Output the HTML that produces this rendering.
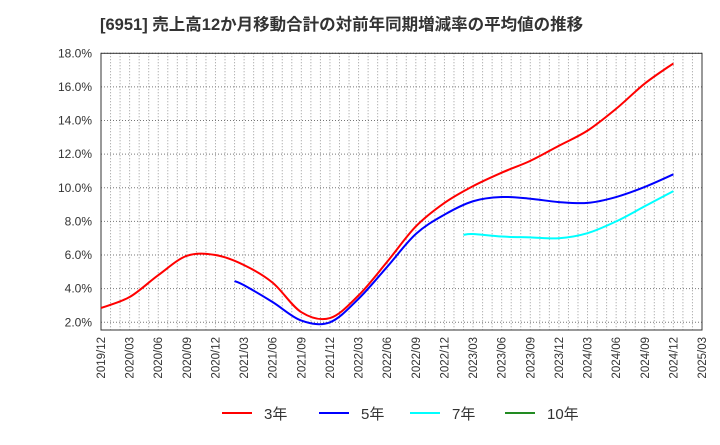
<!DOCTYPE html>
<html><head><meta charset="utf-8"><style>
body{margin:0;background:#fff;}
svg text{font-family:"Liberation Sans","Noto Sans CJK JP",sans-serif;}
</style></head><body>
<svg id="c" width="720" height="440" xmlns="http://www.w3.org/2000/svg">
<text x="100" y="30" font-size="16.5" font-weight="bold" fill="#333">[6951]  売上高12か月移動合計の対前年同期増減率の平均値の推移</text>
<g id="grid"></g><g id="axes"></g><g id="lines"></g>
<g>
<g><line x1="222" y1="413" x2="252" y2="413" stroke="#ff0000" stroke-width="2"/><text x="264" y="419" font-size="15" fill="#333">3年</text></g>
<g><line x1="319" y1="413" x2="349" y2="413" stroke="#0000ff" stroke-width="2"/><text x="361" y="419" font-size="15" fill="#333">5年</text></g>
<g><line x1="410" y1="413" x2="440" y2="413" stroke="#00ffff" stroke-width="2"/><text x="452" y="419" font-size="15" fill="#333">7年</text></g>
<g><line x1="505" y1="413" x2="535" y2="413" stroke="#228b22" stroke-width="2"/><text x="547" y="419" font-size="15" fill="#333">10年</text></g>
</g>
</svg>
<script>
const xLabels=["2019/12","2020/03","2020/06","2020/09","2020/12","2021/03","2021/06","2021/09","2021/12","2022/03","2022/06","2022/09","2022/12","2023/03","2023/06","2023/09","2023/12","2024/03","2024/06","2024/09","2024/12","2025/03"];
const yTicks=[2,4,6,8,10,12,14,16,18];
// month index (0 = 2019/12) and value %
const m3=[0,3,6,9,12,15,18,21,24,27,30,33,36,39,42,45,48,51,54,57,60];
const v3=[2.85,3.5,4.8,5.95,6.0,5.4,4.35,2.6,2.25,3.6,5.6,7.7,9.1,10.1,10.9,11.6,12.5,13.4,14.7,16.2,17.4];
const m5=[14,15,18,21,24,27,30,33,36,39,42,45,48,51,54,57,60];
const v5=[4.45,4.2,3.2,2.1,2.0,3.4,5.3,7.25,8.4,9.2,9.45,9.35,9.15,9.1,9.45,10.05,10.8];
const m7=[38,39,42,45,48,51,54,57,60];
const v7=[7.2,7.25,7.1,7.05,7.0,7.3,8.0,8.9,9.8];
const m10=[];const v10=[];
const L=101,R=702,T=53.3,B=330,yMin=1.54,yMax=18,nM=63;
const X=m=>L+(R-L)*m/nM, Y=v=>B-(B-T)*(v-yMin)/(yMax-yMin);
const NS="http://www.w3.org/2000/svg";
function mk(t,a,p){const e=document.createElementNS(NS,t);for(const k in a)e.setAttribute(k,a[k]);p.appendChild(e);return e;}
const g=document.getElementById('grid'),ax=document.getElementById('axes'),ln=document.getElementById('lines');
for(let m=1;m<nM;m++){const l=mk('line',{x1:X(m),x2:X(m),y1:T,y2:B,stroke:'#999','stroke-dasharray':'1,2','stroke-width':1},g);

}
yTicks.forEach(v=>{const l=mk('line',{x1:L,x2:R,y1:Y(v),y2:Y(v),stroke:'#777','stroke-dasharray':'1,2','stroke-width':1},g);


const t=mk('text',{x:92,y:Y(v)+4,'text-anchor':'end','font-size':12,fill:'#333'},ax);t.textContent=v.toFixed(1)+'%';

});
xLabels.forEach((s,i)=>{const x=X(i*3);const t=mk('text',{x:0,y:0,transform:`translate(${x+4},337) rotate(-90)`,'text-anchor':'end','font-size':11.5,fill:'#333'},ax);t.textContent=s;

});
const fr=mk('rect',{x:L,y:T,width:R-L,height:B-T,fill:'none',stroke:'#333','stroke-width':1},ax);


function path(ms,vs){if(!ms.length)return '';const p=ms.map((m,i)=>[X(m),Y(vs[i])]);let d=`M${p[0][0]},${p[0][1]}`;
for(let i=0;i<p.length-1;i++){const p0=p[i-1]||p[i],p1=p[i],p2=p[i+1],p3=p[i+2]||p2;
d+=` C${p1[0]+(p2[0]-p0[0])/6},${p1[1]+(p2[1]-p0[1])/6} ${p2[0]-(p3[0]-p1[0])/6},${p2[1]-(p3[1]-p1[1])/6} ${p2[0]},${p2[1]}`;}return d;}
[[m3,v3,'#ff0000','line-3y'],[m5,v5,'#0000ff','line-5y'],[m7,v7,'#00ffff','line-7y'],[m10,v10,'#228b22','line-10y']].forEach(s=>{
if(!s[0].length)return;const p=mk('path',{d:path(s[0],s[1]),fill:'none',stroke:s[2],'stroke-width':2},ln);

});
</script>
</body></html>
